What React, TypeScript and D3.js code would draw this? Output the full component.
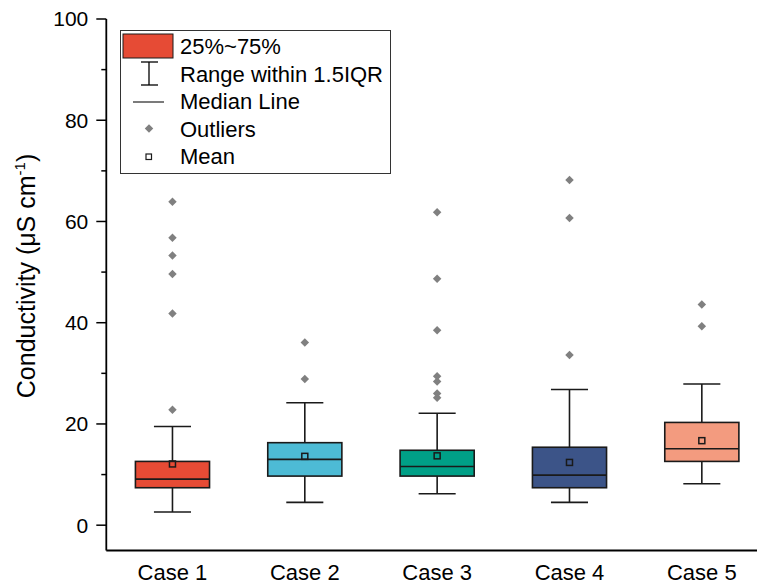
import React from "react";
import * as d3 from "d3";

const categories = ["Case 1", "Case 2", "Case 3", "Case 4", "Case 5"];
const q1 = [7.4, 9.7, 9.7, 7.4, 12.6];
const medians = [9.1, 13.0, 11.6, 9.9, 15.1];
const q3 = [12.6, 16.3, 14.8, 15.4, 20.3];
const whiskerLow = [2.6, 4.5, 6.2, 4.5, 8.2];
const whiskerHigh = [19.5, 24.2, 22.1, 26.8, 27.9];
const means = [12.1, 13.6, 13.7, 12.4, 16.7];
const outliers = [
  [63.9, 56.8, 53.3, 49.6, 41.8, 22.8],
  [36.1, 28.9],
  [61.8, 48.7, 38.5, 29.4, 28.4, 26.0, 25.2],
  [68.2, 60.7, 33.6],
  [43.6, 39.3],
];
const colors = ["#E64B35", "#4DBBD5", "#00A087", "#3C5488", "#F39B7F"];
const yTicks = [0, 20, 40, 60, 80, 100];
const yMinorTicks = [10, 30, 50, 70, 90];
const legendLabels = ["25%~75%", "Range within 1.5IQR", "Median Line", "Outliers", "Mean"];

const W = 757;
const H = 588;
const FONT = "'Liberation Sans', Arial, sans-serif";

export default function App() {
  const x = d3.scaleLinear().domain([0.5, 5.5]).range([106.3, 768]);
  const y = d3.scaleLinear().domain([-5, 100]).range([550.5, 19]);
  const step = x(2) - x(1);
  const boxHalf = step * 0.28;
  const capHalf = step * 0.14;
  const diamond = d3.symbol().type(d3.symbolDiamond2).size(46)();
  const axisX = x(0.5);
  const axisY = y(-5);

  return (
    <svg width={W} height={H} style={{ position: "absolute", left: 0, top: 0 }} fontFamily={FONT}>
      <rect width={W} height={H} fill="#fff" />
      {categories.map((c, i) => {
        const cx = x(i + 1);
        return (
          <g key={c}>
            {outliers[i].map((v, j) => (
              <path key={j} d={diamond} transform={`translate(${cx},${y(v)})`} fill="#808080" />
            ))}
            <line x1={cx} x2={cx} y1={y(q3[i])} y2={y(whiskerHigh[i])} stroke="#1a1a1a" strokeWidth={1.6} />
            <line x1={cx} x2={cx} y1={y(q1[i])} y2={y(whiskerLow[i])} stroke="#1a1a1a" strokeWidth={1.6} />
            <line x1={cx - capHalf} x2={cx + capHalf} y1={y(whiskerHigh[i])} y2={y(whiskerHigh[i])} stroke="#1a1a1a" strokeWidth={1.6} />
            <line x1={cx - capHalf} x2={cx + capHalf} y1={y(whiskerLow[i])} y2={y(whiskerLow[i])} stroke="#1a1a1a" strokeWidth={1.6} />
            <rect
              x={cx - boxHalf}
              y={y(q3[i])}
              width={boxHalf * 2}
              height={y(q1[i]) - y(q3[i])}
              fill={colors[i]}
              stroke="#1a1a1a"
              strokeWidth={1.6}
            />
            <line x1={cx - boxHalf} x2={cx + boxHalf} y1={y(medians[i])} y2={y(medians[i])} stroke="#1a1a1a" strokeWidth={1.6} />
            <rect x={cx - 3} y={y(means[i]) - 3} width={6} height={6} fill="none" stroke="#1a1a1a" strokeWidth={1.5} />
          </g>
        );
      })}
      <line x1={axisX} x2={W} y1={axisY} y2={axisY} stroke="#000" strokeWidth={1.8} />
      <line x1={axisX} x2={axisX} y1={y(100)} y2={axisY} stroke="#000" strokeWidth={1.8} />
      {yTicks.map((t) => (
        <g key={t}>
          <line x1={axisX - 10} x2={axisX} y1={y(t)} y2={y(t)} stroke="#000" strokeWidth={1.5} />
          <text x={axisX - 18} y={y(t)} dy="0.35em" textAnchor="end" fontSize={21} fill="#000">
            {t}
          </text>
        </g>
      ))}
      {yMinorTicks.map((t) => (
        <line key={t} x1={axisX - 5} x2={axisX} y1={y(t)} y2={y(t)} stroke="#000" strokeWidth={1.5} />
      ))}
      {categories.map((c, i) => (
        <text key={c} x={x(i + 1)} y={580} textAnchor="middle" fontSize={22} fill="#000">
          {c}
        </text>
      ))}
      <text transform={`translate(35,${276}) rotate(-90)`} textAnchor="middle" fontSize={25} fill="#000">
        Conductivity (μS cm
        <tspan dy="-10" fontSize={15}>-1</tspan>
        <tspan dy="10">)</tspan>
      </text>
      <g>
        <rect x={120.5} y={30.5} width={270} height={143} fill="#fff" stroke="#333" strokeWidth={1} />
        <rect x={123} y={34} width={50} height={24} fill={colors[0]} stroke="#1a1a1a" strokeWidth={1} />
        <line x1={149} x2={149} y1={62} y2={85} stroke="#000" strokeWidth={1.3} />
        <line x1={141} x2={158} y1={62} y2={62} stroke="#000" strokeWidth={1.3} />
        <line x1={141} x2={158} y1={85} y2={85} stroke="#000" strokeWidth={1.3} />
        <line x1={133} x2={164} y1={102} y2={102} stroke="#333" strokeWidth={1.3} />
        <path d={diamond} transform="translate(149,128.5)" fill="#808080" />
        <rect x={146} y={154} width={5.5} height={5.5} fill="#fff" stroke="#1a1a1a" strokeWidth={1.2} />
        {legendLabels.map((l, i) => (
          <text key={l} x={180} y={46.5 + i * 27.5} dy="0.36em" fontSize={22} fill="#000">
            {l}
          </text>
        ))}
      </g>
    </svg>
  );
}
